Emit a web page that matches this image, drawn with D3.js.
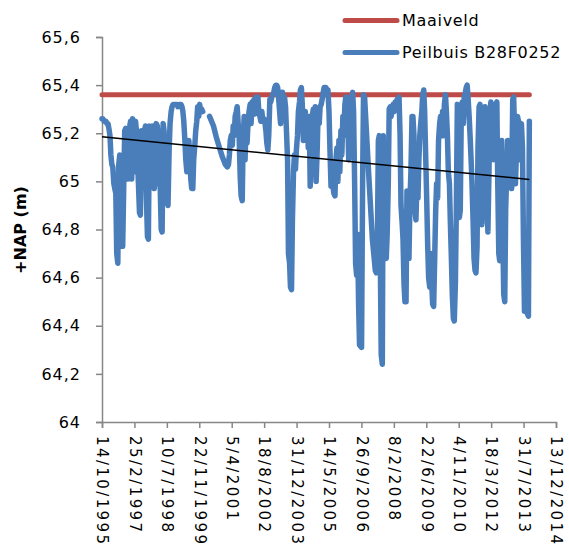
<!DOCTYPE html>
<html>
<head>
<meta charset="utf-8">
<script src="https://cdn.jsdelivr.net/npm/d3@7"></script>
<style>
  body { margin: 0; background: #fff; }
  text { font-family: "DejaVu Sans", Verdana, sans-serif; fill: #000; }
</style>
</head>
<body>
<svg id="chart" width="569" height="551"></svg>
<script>
// ground level (maaiveld) in m +NAP
var maaiveld = 65.36;

// trendline values (start / end)
var trendStart = 65.185;
var trendEnd = 65.008;

// y ticks
var yTicks = [64, 64.2, 64.4, 64.6, 64.8, 65, 65.2, 65.4, 65.6];

// x ticks (500 day steps like the excel axis)
var xTicks = ["1995-10-14", "1997-02-25", "1998-07-10", "1999-11-22", "2001-04-05",
  "2002-08-18", "2003-12-31", "2005-05-14", "2006-09-26", "2008-02-08",
  "2009-06-22", "2010-11-04", "2012-03-18", "2013-07-31", "2014-12-13"];

var seriesNames = ["Maaiveld", "Peilbuis B28F0252"];

// measurements peilbuis B28F0252 (null = no measurements)
var peilbuis = [
["1995-10-14",65.26],["1995-10-28",65.26],["1995-11-14",65.25],["1995-11-28",65.25],["1995-12-14",65.25],["1995-12-28",65.24],
["1996-01-14",65.24],["1996-01-28",65.22],["1996-02-14",65.19],["1996-02-28",65.11],["1996-03-14",65.07],["1996-03-28",65.06],
["1996-04-14",64.99],["1996-04-28",64.97],["1996-05-14",64.95],["1996-05-28",64.70],["1996-06-14",64.66],["1996-06-28",65.07],
["1996-07-14",65.11],["1996-07-28",65.04],["1996-08-14",64.77],["1996-08-28",64.73],["1996-09-14",64.99],["1996-09-28",65.21],
["1996-10-14",65.22],["1996-10-28",65.19],["1996-11-14",65.01],["1996-11-28",65.21],["1996-12-14",65.23],["1996-12-28",65.25],
["1997-01-14",65.01],["1997-01-28",65.26],["1997-02-14",65.19],["1997-02-28",65.04],["1997-03-14",65.25],["1997-03-28",65.21],
["1997-04-14",65.09],["1997-05-14",64.87],["1997-05-28",64.86],["1997-06-14",65.21],["1997-06-28",65.19],["1997-07-14",64.97],
["1997-07-28",65.21],["1997-08-14",65.23],["1997-08-28",64.94],["1997-09-14",64.77],["1997-09-28",64.76],["1997-10-14",65.23],
["1997-10-28",65.19],["1997-11-14",64.99],["1997-11-28",65.23],["1997-12-14",65.21],["1997-12-28",64.97],["1998-01-14",65.04],
["1998-01-28",65.24],["1998-02-14",65.23],["1998-02-28",64.99],["1998-03-14",65.21],["1998-03-28",64.99],["1998-04-14",64.80],
["1998-04-28",64.79],["1998-05-14",65.24],["1998-05-28",65.21],["1998-06-14",65.01],["1998-06-28",65.11],["1998-07-14",64.92],
["1998-07-28",64.90],["1998-08-14",65.13],["1998-08-28",65.24],["1998-09-14",65.29],["1998-09-28",65.31],["1998-10-14",65.32],
["1998-10-28",65.32],["1998-11-14",65.32],["1998-11-28",65.32],["1998-12-14",65.32],["1998-12-28",65.31],["1999-01-14",65.32],
["1999-01-28",65.32],["1999-02-14",65.32],["1999-02-28",65.31],["1999-03-14",65.29],["1999-03-28",65.25],["1999-04-14",65.17],
["1999-04-28",65.09],["1999-05-14",65.04],["1999-05-28",65.11],["1999-06-14",65.17],["1999-06-28",65.11],["1999-07-14",65.01],
["1999-07-28",64.97],["1999-08-14",64.97],["1999-08-28",65.09],["1999-09-14",65.15],["1999-09-28",65.21],["1999-10-14",65.25],
["1999-10-28",65.31],["1999-11-14",65.27],["1999-11-28",65.32],["1999-12-14",65.29],["1999-12-28",65.30],["2000-01-14",65.29],
["2000-02-14",null],
["2000-04-28",65.27],["2000-06-28",65.23],["2000-08-14",65.18],["2000-09-28",65.14],["2000-11-14",65.10],["2000-12-28",65.07],
["2001-01-28",65.06],["2001-02-14",65.07],["2001-02-28",65.11],["2001-03-14",65.17],["2001-03-28",65.19],["2001-04-14",65.15],
["2001-04-28",65.23],["2001-05-14",65.19],["2001-05-28",65.27],["2001-06-14",65.29],["2001-06-28",65.31],["2001-07-14",65.24],
["2001-07-28",65.19],["2001-08-14",65.02],["2001-08-28",64.94],["2001-09-14",64.92],["2001-09-28",65.17],["2001-10-14",65.27],
["2001-10-28",65.09],["2001-11-14",65.26],["2001-11-28",65.16],["2001-12-14",65.25],["2001-12-28",65.29],["2002-01-14",65.32],
["2002-01-28",65.24],["2002-02-14",65.33],["2002-02-28",65.29],["2002-03-14",65.34],["2002-03-28",65.28],["2002-04-14",65.35],
["2002-04-28",65.34],["2002-05-14",65.35],["2002-05-28",65.29],["2002-06-14",65.27],["2002-06-28",65.25],["2002-07-14",65.29],
["2002-07-28",65.25],["2002-08-14",65.26],["2002-08-28",65.25],["2002-09-14",65.21],["2002-09-28",65.16],["2002-10-14",65.13],
["2002-10-28",65.19],["2002-11-14",65.34],["2002-11-28",65.33],["2002-12-14",65.35],["2002-12-28",65.36],["2003-01-14",65.37],
["2003-01-28",65.39],["2003-02-14",65.40],["2003-02-28",65.40],["2003-03-14",65.39],["2003-03-28",65.35],["2003-04-14",65.29],
["2003-04-28",65.24],["2003-05-14",65.37],["2003-05-28",65.37],["2003-06-14",65.29],["2003-06-28",65.35],["2003-07-14",65.31],
["2003-08-14",65.09],["2003-08-28",64.70],["2003-09-14",64.66],["2003-09-28",64.56],["2003-10-14",64.55],["2003-10-28",64.84],
["2003-11-14",65.04],["2003-11-28",65.11],["2003-12-14",65.05],["2003-12-28",65.13],["2004-01-14",65.19],["2004-01-28",65.29],
["2004-02-14",65.33],["2004-02-28",65.38],["2004-03-14",65.39],["2004-03-28",65.32],["2004-04-14",65.17],["2004-04-28",65.24],
["2004-05-14",65.29],["2004-05-28",65.17],["2004-06-14",65.24],["2004-06-28",65.14],["2004-07-14",65.27],["2004-07-28",64.98],
["2004-08-14",65.09],["2004-08-28",65.27],["2004-09-14",65.30],["2004-09-28",65.09],["2004-10-14",65.31],["2004-10-28",65.00],
["2004-11-14",65.14],["2004-11-28",65.30],["2004-12-14",65.24],["2004-12-28",65.31],["2005-01-14",65.32],["2005-01-28",65.34],
["2005-02-14",65.37],["2005-02-28",65.39],["2005-03-14",65.39],["2005-03-28",65.39],["2005-04-14",65.38],["2005-04-28",65.38],
["2005-05-14",65.29],["2005-05-28",65.14],["2005-06-14",64.98],["2005-06-28",65.07],["2005-07-14",64.98],["2005-07-28",64.95],
["2005-08-14",64.94],["2005-08-28",65.09],["2005-09-14",65.14],["2005-09-28",65.00],["2005-10-14",65.17],["2005-10-28",65.04],
["2005-11-14",65.21],["2005-11-28",65.11],["2005-12-14",65.27],["2005-12-28",65.19],["2006-01-14",65.32],["2006-01-28",65.35],
["2006-02-14",65.35],["2006-02-28",65.24],["2006-03-14",65.09],["2006-03-28",65.14],["2006-04-14",65.29],["2006-04-28",65.35],
["2006-05-14",65.37],["2006-05-28",65.29],["2006-06-14",64.98],["2006-06-28",64.66],["2006-07-14",64.61],["2006-07-28",64.78],
["2006-08-14",64.48],["2006-08-28",64.32],["2006-09-28",64.31],["2006-10-14",64.99],["2006-10-28",65.36],["2006-11-14",65.35],
["2007-01-14",65.04],["2007-03-14",64.76],["2007-04-28",64.63],["2007-05-14",64.62],["2007-05-28",64.68],["2007-06-14",65.17],
["2007-06-28",65.19],["2007-07-14",64.68],["2007-07-28",64.28],["2007-08-14",64.24],["2007-08-28",65.19],["2007-09-14",64.88],
["2007-09-28",64.70],["2007-10-14",64.68],["2007-10-28",64.78],["2007-11-14",64.99],["2007-11-28",65.30],["2007-12-14",65.31],
["2007-12-28",65.27],["2008-01-14",65.31],["2008-01-28",65.32],["2008-02-14",65.29],["2008-02-28",65.33],["2008-03-14",65.32],
["2008-03-28",65.34],["2008-04-14",65.34],["2008-04-28",65.35],["2008-05-14",65.19],["2008-05-28",64.90],["2008-06-14",64.83],
["2008-06-28",64.76],["2008-07-14",64.57],["2008-07-28",64.50],["2008-08-14",64.50],["2008-08-28",64.96],["2008-09-14",64.90],
["2008-09-28",64.68],["2008-10-14",64.93],["2008-10-28",65.04],["2008-11-14",65.27],["2008-11-28",65.27],["2008-12-14",65.19],
["2008-12-28",64.88],["2009-01-14",64.84],["2009-01-28",64.99],["2009-02-14",64.93],["2009-02-28",65.09],["2009-03-14",65.19],
["2009-03-28",65.24],["2009-04-14",65.29],["2009-04-28",65.36],["2009-05-14",65.38],["2009-05-28",65.29],["2009-06-14",65.09],
["2009-06-28",64.93],["2009-07-14",64.73],["2009-07-28",64.60],["2009-08-14",64.56],["2009-08-28",64.70],["2009-09-14",64.58],
["2009-09-28",64.49],["2009-10-14",64.48],["2009-11-14",64.88],["2009-11-28",64.99],["2009-12-14",64.93],["2009-12-28",65.17],
["2010-01-14",65.24],["2010-01-28",65.27],["2010-02-14",65.19],["2010-02-28",65.29],["2010-03-14",65.19],["2010-03-28",65.32],
["2010-04-14",65.36],["2010-04-28",65.29],["2010-05-14",65.19],["2010-05-28",65.04],["2010-06-14",64.99],["2010-06-28",64.83],
["2010-07-14",64.68],["2010-07-28",64.53],["2010-08-14",64.43],["2010-08-28",64.42],["2010-09-14",64.58],["2010-09-28",64.88],
["2010-10-14",65.32],["2010-10-28",65.04],["2010-11-14",64.85],["2010-11-28",64.88],["2010-12-14",65.29],["2010-12-28",65.33],
["2011-01-14",65.24],["2011-01-28",65.35],["2011-02-14",65.37],["2011-02-28",65.39],["2011-03-14",65.40],["2011-03-28",65.35],
["2011-04-14",65.27],["2011-04-28",65.19],["2011-05-14",65.09],["2011-05-28",64.99],["2011-06-14",64.83],["2011-06-28",64.68],
["2011-07-14",64.63],["2011-07-28",64.62],["2011-08-14",64.73],["2011-08-28",65.14],["2011-09-14",65.31],["2011-09-28",65.32],
["2011-10-14",64.90],["2011-10-28",64.82],["2011-11-14",64.99],["2011-11-28",65.29],["2011-12-14",65.31],["2011-12-28",65.24],
["2012-01-14",64.93],["2012-01-28",64.79],["2012-02-14",65.04],["2012-02-28",65.29],["2012-03-14",65.33],["2012-03-28",65.27],
["2012-04-14",65.19],["2012-04-28",65.09],["2012-05-14",65.14],["2012-05-28",65.32],["2012-06-14",65.33],["2012-06-28",64.99],
["2012-07-14",64.70],["2012-07-28",64.67],["2012-08-14",65.04],["2012-08-28",65.17],["2012-09-14",64.78],["2012-09-28",64.53],
["2012-10-14",64.50],["2012-10-28",64.88],["2012-11-14",65.04],["2012-11-28",65.17],["2012-12-28",65.14],["2013-01-14",65.04],
["2013-01-28",64.97],["2013-02-14",65.34],["2013-02-28",65.35],["2013-03-14",65.21],["2013-03-28",64.99],["2013-04-14",65.14],
["2013-04-28",65.27],["2013-05-14",65.25],["2013-05-28",65.09],["2013-06-14",65.19],["2013-06-28",65.24],["2013-07-14",65.14],
["2013-07-28",64.78],["2013-08-14",64.46],["2013-08-28",64.48],["2013-09-14",64.58],["2013-09-28",64.45],["2013-10-14",64.44],
["2013-10-28",65.25]
];

var parse = d3.timeParse("%Y-%m-%d");
var data = peilbuis.map(function(d) { return {date: parse(d[0]), value: d[1]}; });
var firstDate = data[0].date;
var lastDate = data[data.length - 1].date;

var svg = d3.select("#chart");
var blue = "#4A7EBB", red = "#BE4B48";

var x = d3.scaleTime()
  .domain([parse(xTicks[0]), parse(xTicks[xTicks.length - 1])])
  .range([102, 556]);
var y = d3.scaleLinear().domain([64, 65.6]).range([422, 37]);

var nl = d3.formatLocale({decimal: ",", thousands: ".", grouping: [3], currency: ["€", ""]});
var fmtY = nl.format(".1~f");
var fmtX = d3.timeFormat("%-d/%-m/%Y");

// y axis
var yAxis = svg.append("g")
  .attr("transform", "translate(102,0)")
  .call(d3.axisLeft(y).tickValues(yTicks).tickFormat(fmtY).tickSize(6).tickPadding(15));
yAxis.selectAll("text").style("font-size", "16px").style("letter-spacing", "1px");

// x axis, labels turned a quarter clockwise
var xAxis = svg.append("g")
  .attr("transform", "translate(0,422)")
  .call(d3.axisBottom(x).tickValues(xTicks.map(parse)).tickFormat("").tickSize(6));
xAxis.selectAll(".tick text").remove();
xAxis.selectAll(".tick").append("text")
  .attr("transform", "translate(0,14) rotate(90)")
  .attr("dy", "0.35em")
  .attr("text-anchor", "start")
  .style("font-size", "15px").style("letter-spacing", "2.4px")
  .text(function(d) { return fmtX(d); });

svg.selectAll(".domain, .tick line").attr("stroke", "#878787").attr("stroke-width", 1.5);

// y title
svg.append("text")
  .attr("transform", "translate(20,230) rotate(-90)")
  .attr("text-anchor", "middle").attr("dy", "0.35em")
  .style("font-size", "16px").style("font-weight", "bold")
  .text("+NAP (m)");

// maaiveld
svg.append("line")
  .attr("x1", x(firstDate)).attr("x2", x(lastDate))
  .attr("y1", y(maaiveld)).attr("y2", y(maaiveld))
  .attr("stroke", red).attr("stroke-width", 5).attr("stroke-linecap", "round");

// peilbuis
var line = d3.line()
  .defined(function(d) { return d.value != null; })
  .x(function(d) { return x(d.date); })
  .y(function(d) { return y(d.value); });

svg.append("path")
  .datum(data)
  .attr("d", line)
  .attr("fill", "none")
  .attr("stroke", blue)
  .attr("stroke-width", 5.5)
  .attr("stroke-linejoin", "round")
  .attr("stroke-linecap", "round");

// trendline
svg.append("line")
  .attr("x1", x(firstDate)).attr("x2", x(lastDate))
  .attr("y1", y(trendStart)).attr("y2", y(trendEnd))
  .attr("stroke", "#000").attr("stroke-width", 1.5);

// legend
var legend = svg.append("g").selectAll("g")
  .data(seriesNames).enter().append("g")
  .attr("transform", function(d, i) { return "translate(345," + (20.5 + i * 32) + ")"; });
legend.append("line")
  .attr("x1", 0).attr("x2", 52)
  .attr("stroke", function(d, i) { return i == 0 ? red : blue; })
  .attr("stroke-width", 5).attr("stroke-linecap", "round");
legend.append("text")
  .attr("x", 57).attr("dy", "0.35em")
  .style("font-size", "16px").style("letter-spacing", "0.7px")
  .text(function(d) { return d; });
</script>
</body>
</html>
